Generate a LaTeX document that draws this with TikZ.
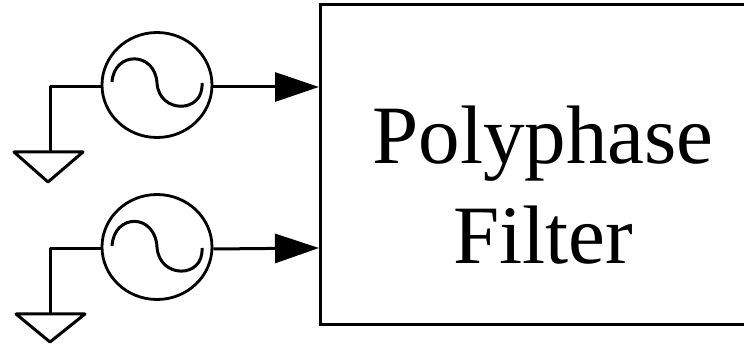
\documentclass[tikz,border=0pt]{standalone}
\usepackage{fontspec}
\setmainfont{Liberation Serif}
\usetikzlibrary{positioning}
\usetikzlibrary{arrows.meta, shapes.geometric}
\tikzset{
  source/.style = {draw, ellipse, line width = 2.8pt, minimum width = 110pt, minimum height = 105pt, inner sep = 0pt},
  wire/.style = {line width = 3pt},
  feed/.style = {line width = 3pt, -{Triangle[length = 44pt, width = 29pt]}},
  filter/.style = {draw, line width = 3pt, minimum width = 442pt, minimum height = 320pt, inner sep = 0pt, align = center}
}
\begin{document}
\begin{tikzpicture}[x = 1pt, y = -1pt]
 \useasboundingbox (0,0) rectangle (744,344);
 \node[filter] (polyphase) at (541, 165) {};
 \node[font = \fontsize{83}{100}\selectfont, align = center, inner sep = 0pt] (title) at (543, 185) {Polyphase\\Filter};
 % upper source
 \node[source] (sourceA) at (157, 85) {};
 \coordinate (inA) at (319, 87);
 \coordinate (bendA) at (50, 87);
 \coordinate (gndA) at (50, 152);
 \coordinate (gndAl) at (14, 152);
 \coordinate (gndAr) at (83, 152);
 \coordinate (gndAt) at (48, 182);
 \draw[feed] (sourceA.east |- inA) -- (inA);
 \draw[wire, line join = round] (sourceA.west |- bendA) -- (bendA) -- (gndA);
 \draw[wire, line join = round] (gndAl) -- (gndAr) -- (gndAt) -- cycle;
 \draw[wire] (112, 82) .. controls (114, 51) and (155, 51) .. (157, 83) .. controls (159, 114) and (204, 114) .. (202, 83);
 % lower source
 \node[source] (sourceB) at (157, 247) {};
 \coordinate (inB) at (319, 248);
 \coordinate (bendB) at (50, 249);
 \coordinate (gndB) at (50, 314);
 \coordinate (gndBl) at (16, 314);
 \coordinate (gndBr) at (85, 314);
 \coordinate (gndBt) at (50, 342);
 \draw[feed] (sourceB.east |- bendB) -- (inB);
 \draw[wire, line join = round] (sourceB.west |- bendB) -- (bendB) -- (gndB);
 \draw[wire, line join = round] (gndBl) -- (gndBr) -- (gndBt) -- cycle;
 \draw[wire] (112, 246) .. controls (114, 213) and (155, 213) .. (157, 247) .. controls (159, 279) and (204, 279) .. (202, 248);
\end{tikzpicture}
\end{document}
